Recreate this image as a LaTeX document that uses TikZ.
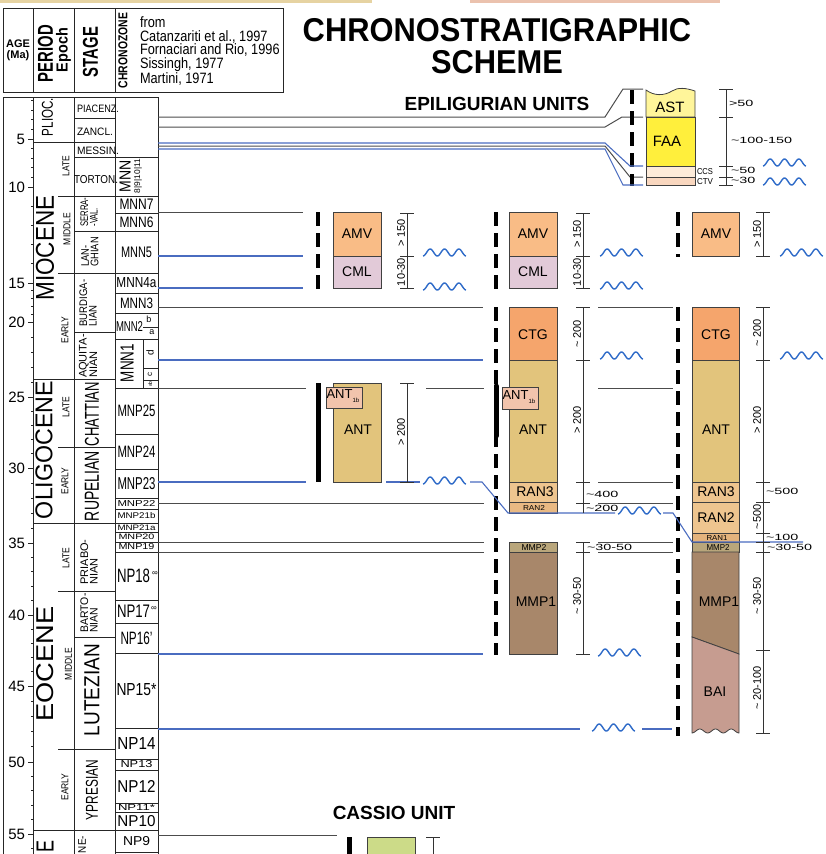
\documentclass[tikz,border=0pt]{standalone}
\usepackage{fontspec}
\setmainfont{Liberation Sans}
\usepackage{graphicx}
\usetikzlibrary{positioning}

% unit colours
\definecolor{astc}{HTML}{FFF59A}
\definecolor{faac}{HTML}{FFEF3C}
\definecolor{ccsc}{HTML}{FDEBD9}
\definecolor{ctvc}{HTML}{F9D7BF}
\definecolor{amvc}{HTML}{F9BC86}
\definecolor{cmlc}{HTML}{E2CAD8}
\definecolor{ctgc}{HTML}{F5A56C}
\definecolor{antc}{HTML}{E2C47C}
\definecolor{antbc}{HTML}{F2C4AC}
\definecolor{ranc}{HTML}{EEC58F}
\definecolor{ranbc}{HTML}{E9B983}
\definecolor{ranac}{HTML}{E3B37D}
\definecolor{mmpbc}{HTML}{B9A67B}
\definecolor{mmpc}{HTML}{A8876A}
\definecolor{baic}{HTML}{C69C90}
\definecolor{cassc}{HTML}{CCDB88}
\definecolor{unconf}{HTML}{4A6CC0}
\definecolor{wavec}{HTML}{2F6BC8}
\definecolor{stripa}{HTML}{E6D3A2}
\definecolor{stripb}{HTML}{EBC2AE}

\newcommand{\sq}[2]{\scalebox{#1}[1]{#2}}
\newcommand{\rz}[3]{\resizebox{#1pt}{#2pt}{#3}}
\newcommand{\wave}[2]{\draw[wavy] plot[domain=0:1080,samples=61] ({#1+\x/1080*43},{#2-3.5*(1-cos(\x))});}
\newcommand{\tick}[2]{\draw[bar] (#1-7,#2) -- (#1+7,#2);}
\newcommand{\tl}{\textasciitilde}

\begin{document}
\begin{tikzpicture}[x=1pt,y=-1pt,
  grid/.style={draw=black!85,line width=0.8pt},
  corr/.style={draw=black!70,line width=1pt},
  unc/.style={draw=unconf,line width=1.1pt},
  wavy/.style={draw=wavec,line width=1.4pt},
  unit/.style={draw=black!75,line width=0.8pt},
  brkline/.style={line width=4pt,dash pattern=on 14pt off 7pt},
  solidbar/.style={line width=5pt},
  bar/.style={draw=black!80,line width=0.9pt},
  txt/.style={inner sep=0pt,outer sep=0pt},
  ulab/.style={txt,font=\fontsize{14}{14}\selectfont},
  stg/.style={txt,rotate=90,align=left,font=\fontsize{11}{9.5}\selectfont},
  epo/.style={txt,rotate=90,font=\fontsize{10}{10}\selectfont},
  per/.style={txt,rotate=90},
  agel/.style={txt,anchor=east,font=\fontsize{15}{15}\selectfont},
  vlab/.style={txt,rotate=90,anchor=south,font=\fontsize{11}{11}\selectfont},
  hlab/.style={txt,anchor=west,font=\fontsize{9}{9}\selectfont},
  head/.style={txt,font=\bfseries\fontsize{19}{19}\selectfont},
]
\useasboundingbox (0,0) rectangle (826,854);
\clip (0,0) rectangle (826,854);

% edge of the scan above
\fill[stripa] (0,0) rectangle (372,3);
\fill[stripb] (470,0) rectangle (720,3);

% title
\node[txt,font=\bfseries\fontsize{33}{33}\selectfont,xscale=0.935] (ttlA) at (497,30) {CHRONOSTRATIGRAPHIC};
\node[txt,font=\bfseries\fontsize{33}{33}\selectfont,xscale=0.935] (ttlB) at (497,62) {SCHEME};

% header box
\draw[grid] (3,8) rectangle (283,92);
\foreach \xx in {33,74,115} {\draw[grid] (\xx,8) -- (\xx,92);}
\node[txt,font=\bfseries\fontsize{11}{11}\selectfont] (hage) at (18,44) {AGE};
\node[txt,font=\bfseries\fontsize{11}{11}\selectfont] (hma) at (18,56) {(Ma)};
\node[per] (hper) at (45.5,53.5) {\rz{57}{15}{\bfseries PERIOD}};
\node[per,font=\bfseries\fontsize{16}{16}\selectfont,xscale=0.9] (hepo) at (63.5,50) {Epoch};
\node[per] (hstg) at (90.5,52) {\rz{50}{15}{\bfseries STAGE}};
\node[per] (hchr) at (123,50.5) {\rz{75}{9}{\bfseries CHRONOZONE}};
\node[txt,anchor=north west,align=left,font=\fontsize{15}{13.5}\selectfont,xscale=0.85] (hrefs) at (140,17)
  {from\\Catanzariti et al., 1997\\Fornaciari and Rio, 1996\\Sissingh, 1977\\Martini, 1971};

% time scale frame
\draw[grid] (3,97) -- (158,97);
\foreach \xx in {3,33,74,115,158} {\draw[grid] (\xx,97) -- (\xx,860);}
\foreach \yy in {142,379} {\draw[grid] (33,\yy) -- (115,\yy);}
\foreach \yy in {523,830} {\draw[grid] (33,\yy) -- (158,\yy);}
\foreach \yy/\xe in {196/158,273/158,447/115,591/115,749/115} {\draw[grid] (58,\yy) -- (\xe,\yy);}
\foreach \yy/\xe in {118/115,157/158,231/158,332/115,637/115} {\draw[grid] (74,\yy) -- (\xe,\yy);}
\foreach \yy in {213,293,313,339,388,434,469,498,509,532,542,552,600,623,653,728,759,770,803,812,852}
  {\draw[grid] (115,\yy) -- (158,\yy);}

% age ticks
\foreach \yy in {100.6,110.2,119.8,129.4,848.4} {\draw[grid] (31,\yy) -- (33,\yy);}
\foreach \ya/\yb in {139/187,187/283,283/322,322/397,397/468,468/543,543/615,615/686,686/762,762/834}
  {\foreach \k in {1,...,4} {\draw[grid] (31,{\ya+(\yb-\ya)*\k/5}) -- (33,{\ya+(\yb-\ya)*\k/5});}}
\foreach \v/\yy in {5/139,10/187,15/283,20/322,25/397,30/468,35/543,40/615,45/686,50/762,55/834} {
  \draw[grid] (28,\yy) -- (33,\yy);
  \node[agel] (age\v) at (25,\yy) {\v};
}

% periods and epochs
\node[per] (plio) at (47.5,117) {\rz{38}{11}{PLIOC.}};
\node[per] (mio) at (45,248) {\rz{105}{18}{MIOCENE}};
\node[per] (olig) at (44,450) {\rz{138}{17}{OLIGOCENE}};
\node[per] (eoc) at (45,664) {\rz{115}{17}{EOCENE}};
\node[per,anchor=east] (paleo) at (45,840) {\rz{12}{17}{E}};
\foreach \nm/\yy/\xx/\txt in {mlate/166/66/LATE,mmid/229/67/MIDDLE,mearly/330/65/EARLY,olate/407/66/LATE,
    oearly/481/65/EARLY,elate/558/66/LATE,emid/664/68.5/MIDDLE,eearly/787/65/EARLY}
  {\node[epo] (\nm) at (\xx,\yy) {\sq{0.85}{\txt}};}

% stages
\node[txt,anchor=west] (piac) at (77,108.5) {\rz{42}{7.5}{PIACENZ.}};
\node[txt,anchor=west] (zancl) at (77,132) {\rz{36}{7.5}{ZANCL.}};
\node[txt,anchor=west] (messin) at (77,151) {\rz{42}{7.5}{MESSIN.}};
\node[txt,anchor=west] (torton) at (74,179.5) {\rz{44}{8}{TORTON.}};
\node[stg,xscale=0.7] (serra) at (89,212) {SERRA-\\-VAL.};
\node[stg,xscale=0.85] (langh) at (90,252) {LAN-\\GHIAN};
\node[stg,xscale=0.87] (burdi) at (88,303) {BURDIGA-\\LIAN};
\node[stg] (aquit) at (88,356) {AQUITA-\\NIAN};
\node[per] (chatt) at (92,414) {\rz{64}{14}{CHATTIAN}};
\node[per] (rupel) at (92,486) {\rz{70}{14}{RUPELIAN}};
\node[stg] (priab) at (89,562) {PRIABO-\\NIAN};
\node[stg,xscale=0.95] (barto) at (89,613) {BARTO-\\NIAN};
\node[per] (lutez) at (92,690) {\rz{92}{15}{LUTEZIAN}};
\node[per] (ypres) at (92,790) {\rz{60}{12}{YPRESIAN}};
\node[stg,anchor=east,xscale=0.9] (thane) at (82,836) {NE-};

% chronozones
\node[per] (mnnH) at (125,176) {\rz{32}{11}{MNN}};
\node[per] (mnnHn) at (138,176) {\rz{34}{6}{8|9|10|11}};
\foreach \nm/\yy/\w/\h/\txt in {mnnG/204.5/34/10.5/MNN7,mnnF/222/34/10.5/MNN6,mnnE/252/31/10.5/MNN5,
    mnnD/283/40/10/MNN4a,mnnC/303/33/10.5/MNN3,mnpY/411/38/11.5/MNP25,mnpX/451.5/38/11.5/MNP24,
    mnpW/483.5/38/12/MNP23,mnpV/503.5/38/6/MNP22,mnpU/516/38/6/MNP21b,mnpT/527.5/38/5.5/MNP21a,
    mnpS/537/36/5.5/MNP20,mnpR/547/36/6/MNP19,npO/638/32/12.5/NP16',npN/690/40/12/NP15*,
    npM/743.5/38/12/NP14,npL/764.5/32/7/NP13,npK/786.5/38/12/NP12,npJ/807.5/37/6/NP11*,
    npI/821/38/11/NP10,npH/841/27/9/NP9}
  {\node[txt] (\nm) at (136.5,\yy) {\rz{\w}{\h}{\txt}};}
\node[txt,anchor=west] (mnnB) at (116,326) {\rz{27}{10}{MNN2}};
\draw[grid] (143,327) -- (158,327);
\node[txt,font=\fontsize{9}{9}\selectfont] (mnnBb) at (149,319) {b};
\node[txt,font=\fontsize{9}{9}\selectfont] (mnnBa) at (152,332) {a};
\node[per] (mnnA) at (127,363) {\rz{38}{13}{MNN1}};
\draw[grid] (143,339) -- (143,388);
\draw[grid] (143,368) -- (158,368);
\draw[grid] (143,380) -- (158,380);
\node[per,font=\fontsize{10}{10}\selectfont] (mnnAd) at (150,353) {d};
\node[per,font=\fontsize{8}{8}\selectfont] (mnnAc) at (150,374) {c};
\node[per,font=\fontsize{5}{5}\selectfont] (mnnAab) at (150,384) {ab};
\node[txt,anchor=west] (npQ) at (117,576) {\rz{33}{13.5}{NP18}};
\node[txt,font=\fontsize{8}{8}\selectfont] (npQs) at (155,574) {∞};
\node[txt,anchor=west] (npP) at (117,611) {\rz{33}{12.5}{NP17}};
\node[txt,font=\fontsize{8}{8}\selectfont] (npPs) at (154,609) {∞};

% correlation lines
\draw[corr] (158,117) -- (605,117) -- (623,89) -- (643,89);
\draw[corr] (158,127) -- (605,127) -- (622,117) -- (643,117);
\draw[corr] (158,146) -- (605,146) -- (630,177) -- (643,177);
\draw[corr] (158,212) -- (303,212);
\draw[corr] (158,307) -- (483,307);
\draw[corr] (158,388) -- (306,388);
\draw[corr] (426,388) -- (484,388);
\foreach \yy in {503,542,552} {\draw[corr] (158,\yy) -- (484,\yy);}
\foreach \yy in {307,388,482,503,542,552} {\draw[corr] (598,\yy) -- (673,\yy);}
\draw[corr] (158,835) -- (337,835);

% Epiligurian units, upper part
\draw[unit,fill=astc] (646,117) -- (646,90) .. controls (654,96) and (664,96) .. (672,91)
  .. controls (678,87) and (686,88) .. (695,91) -- (695,117) -- cycle;
\draw[unit,fill=faac] (646,117) rectangle (695,166);
\draw[unit,fill=ccsc] (646,166) rectangle (695,177);
\draw[unit,fill=ctvc] (646,177) rectangle (695,185);
\node[ulab,font=\fontsize{15}{15}\selectfont] (ast) at (670,107) {AST};
\node[ulab,font=\fontsize{15}{15}\selectfont] (faa) at (667,141) {FAA};
\node[txt,anchor=west] (ccs) at (697,171.5) {\rz{16}{6}{CCS}};
\node[txt,anchor=west] (ctv) at (697,181.5) {\rz{16}{6}{CTV}};
\draw[brkline] (632,90) -- (632,186);

% first column
\draw[unit,fill=amvc] (333,212) rectangle (381,256);
\draw[unit,fill=cmlc] (333,256) rectangle (381,288);
\draw[unit,fill=antc] (333,383) rectangle (381,482);
\draw[unit,fill=antbc] (326,387) rectangle (362,408);
\node[ulab] (amvA) at (357,234) {AMV};
\node[ulab] (cmlA) at (357,272) {CML};
\node[ulab] (antA) at (358,430) {ANT};
\node[txt,anchor=west,font=\fontsize{13}{13}\selectfont] (antbA) at (326.5,396) {ANT\raisebox{-3.5pt}{\fontsize{6}{6}\selectfont 1b}};
\draw[brkline] (318,212) -- (318,289);
\draw[solidbar] (318,383) -- (318,482);

% second column
\draw[unit,fill=amvc] (509,212) rectangle (557,256);
\draw[unit,fill=cmlc] (509,256) rectangle (557,288);
\draw[unit,fill=ctgc] (509,307) rectangle (557,360);
\draw[unit,fill=antc] (509,360) rectangle (557,482);
\draw[unit,fill=ranc] (509,482) rectangle (557,502);
\draw[unit,fill=ranbc] (509,502) rectangle (557,513);
\draw[unit,fill=mmpbc] (509,542) rectangle (557,552);
\draw[unit,fill=mmpc] (509,552) rectangle (557,654);
\draw[unit,fill=antbc] (502,387) rectangle (538,409);
\node[ulab] (amvB) at (533,234) {AMV};
\node[ulab] (cmlB) at (533,272) {CML};
\node[ulab] (ctgB) at (533,335) {CTG};
\node[ulab] (antB) at (533,430) {ANT};
\node[ulab] (ranB) at (535,492) {RAN3};
\node[txt] (ranbB) at (534,507.5) {\rz{22}{5}{RAN2}};
\node[txt] (mmpbB) at (534,547) {\rz{25}{6}{MMP2}};
\node[ulab] (mmpB) at (536,602) {MMP1};
\node[txt,anchor=west,font=\fontsize{13}{13}\selectfont] (antbB) at (502.5,397) {ANT\raisebox{-3.5pt}{\fontsize{6}{6}\selectfont 1b}};
\draw[brkline] (496,212) -- (496,289);
\draw[brkline] (496,307) -- (496,655);
\draw[solidbar,line cap=round] (496,386) -- (496,436);

% third column
\draw[unit,fill=amvc] (692,212) rectangle (739,256);
\draw[unit,fill=ctgc] (692,307) rectangle (739,360);
\draw[unit,fill=antc] (692,360) rectangle (739,482);
\draw[unit,fill=ranc] (692,482) rectangle (739,502);
\draw[unit,fill=ranc] (692,502) rectangle (739,533);
\draw[unit,fill=ranac] (692,533) rectangle (739,542);
\draw[unit,fill=mmpbc] (692,542) rectangle (739,552);
\draw[unit,fill=mmpc] (692,552) -- (739,552) -- (739,654) -- (692,637) -- cycle;
\draw[unit,fill=baic] (692,637) -- (739,654) -- (739,733)
  -- plot[domain=0:1080,samples=40] ({739-\x/1080*47},{733-2*(1-cos(\x))}) -- cycle;
\node[ulab] (amvC) at (716,234) {AMV};
\node[ulab] (ctgC) at (716,335) {CTG};
\node[ulab] (antC) at (716,430) {ANT};
\node[ulab] (ranC) at (716,492) {RAN3};
\node[ulab] (ranbC) at (716,518) {RAN2};
\node[txt] (ranaC) at (717,537.5) {\rz{21}{5}{RAN1}};
\node[txt] (mmpbC) at (718,547) {\rz{23}{6}{MMP2}};
\node[ulab] (mmpC) at (719,602) {MMP1};
\node[ulab] (baiC) at (715,692) {BAI};
\draw[brkline] (678,212) -- (678,257);
\draw[brkline] (678,307) -- (678,736);

% Cassio unit
\node[head] (cassio) at (394,813) {CASSIO UNIT};
\draw[unit,fill=cassc] (367,837) rectangle (415,870);
\draw[solidbar] (349,837) -- (349,860);
\draw[bar] (433,837) -- (433,860);
\tick{433}{837}

% unconformities
\draw[unc] (158,143) -- (605,143) -- (630,166) -- (643,166);
\draw[unc] (158,149) -- (605,149) -- (623,185) -- (643,185);
\draw[unc] (158,256) -- (303,256);
\draw[unc] (158,288) -- (303,288);
\draw[unc] (158,360) -- (483,360);
\draw[unc] (158,482) -- (306,482);
\draw[unc] (386,482) -- (420,482);
\draw[unc] (470,482) -- (482,482) -- (508,513) -- (615,513);
\draw[unc] (663,513) -- (673,513) -- (692,542) -- (803,542);
\draw[unc] (158,654) -- (483,654);
\draw[unc] (158,729) -- (580,729);
\draw[unc] (642,729) -- (672,729);
\wave{763}{166} \wave{763}{185}
\wave{423}{256} \wave{423}{290} \wave{423}{484}
\wave{600}{256} \wave{600}{289} \wave{600}{359} \wave{618}{514} \wave{598}{656} \wave{592}{731}
\wave{780}{256} \wave{780}{359}

% thickness bars
\draw[bar] (726,89) -- (726,185);
\foreach \yy in {89,117,166,177,185} {\tick{726}{\yy}}
\draw[bar] (407,213) -- (407,288);
\draw[bar] (407,383) -- (407,482);
\foreach \yy in {213,256,288,383,482} {\tick{407}{\yy}}
\draw[bar] (583,213) -- (583,288);
\draw[bar] (583,307) -- (583,513);
\draw[bar] (583,542) -- (583,654);
\foreach \yy in {213,256,288,307,360,482,503,542,552,654} {\tick{583}{\yy}}
\draw[bar] (763,212) -- (763,256);
\draw[bar] (763,307) -- (763,733);
\foreach \yy in {212,256,307,360,482,502,533,542,552,650,733} {\tick{763}{\yy}}

% thickness labels
\node[hlab] (epA) at (729,103) {\sq{1.6}{>50}};
\node[hlab] (epB) at (731,140) {\sq{1.6}{\tl100-150}};
\node[hlab] (epC) at (731,170) {\sq{1.6}{\tl50}};
\node[hlab] (epD) at (731,180.5) {\sq{1.6}{\tl30}};
\node[vlab] (sAa) at (405,233) {> 150};
\node[vlab] (sAb) at (405,272) {10-30};
\node[vlab] (sAc) at (405,432) {> 200};
\node[vlab] (sBa) at (581,234) {> 150};
\node[vlab] (sBb) at (581,272) {10-30};
\node[vlab] (sBc) at (581,334) {\tl{} 200};
\node[vlab] (sBg) at (581,420) {> 200};
\node[hlab] (sBd) at (586,494) {\sq{1.6}{\tl400}};
\node[hlab] (sBe) at (586,508) {\sq{1.6}{\tl200}};
\node[hlab] (sBf) at (587,547) {\sq{1.6}{\tl30-50}};
\node[vlab] (sBh) at (581,596) {\tl{} 30-50};
\node[vlab] (sCa) at (761,234) {> 150};
\node[vlab] (sCb) at (761,333) {\tl{} 200};
\node[vlab] (sCc) at (761,420) {> 200};
\node[hlab] (sCd) at (766,491) {\sq{1.6}{\tl500}};
\node[vlab] (sCe) at (761,517) {\tl500};
\node[hlab] (sCf) at (766,537) {\sq{1.6}{\tl100}};
\node[hlab] (sCg) at (767,547) {\sq{1.6}{\tl30-50}};
\node[vlab] (sCh) at (761,596) {\tl{} 30-50};
\node[vlab] (sCi) at (761,688) {\tl{} 20-100};

\node[head] (epihead) at (497,103.5) {EPILIGURIAN UNITS};
\end{tikzpicture}
\end{document}
